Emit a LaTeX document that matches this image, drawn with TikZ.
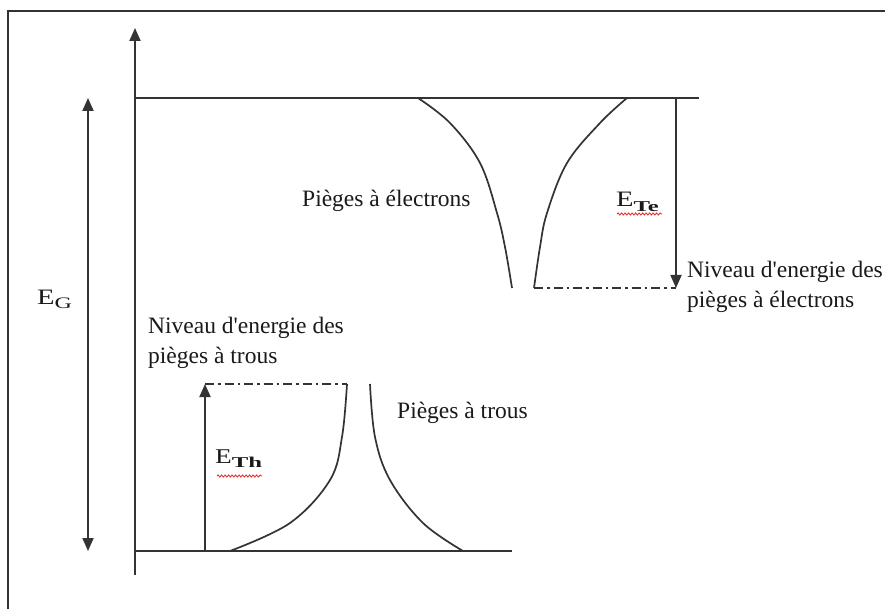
\documentclass[tikz,border=0pt]{standalone}
\usepackage{fontspec}
\setmainfont{Liberation Serif}
\usepackage{graphicx}
\usetikzlibrary{arrows.meta,decorations.pathmorphing}
\definecolor{linegray}{HTML}{333333}
\definecolor{textblack}{HTML}{1A1A1A}
\definecolor{wavyred}{HTML}{E03030}
\begin{document}
\begin{tikzpicture}[x=1pt,y=-1pt,
  band/.style={draw=linegray, line width=2.3pt},
  curve/.style={draw=linegray, line width=1.7pt},
  arr/.style={draw=linegray, line width=1.8pt, -{Triangle[length=13pt,width=11pt]}},
  darr/.style={draw=linegray, line width=1.8pt, {Triangle[length=13pt,width=11pt]}-{Triangle[length=13pt,width=11pt]}},
  level/.style={draw=linegray, line width=1.6pt, dash pattern=on 9pt off 4pt on 2.5pt off 4pt},
  lbl/.style={anchor=base west, inner sep=0pt, text=textblack, font=\fontsize{23.5}{30}\selectfont},
  sym/.style={anchor=base west, inner sep=0pt, text=textblack},
  wavy/.style={draw=wavyred, line width=0.9pt, decorate, decoration={snake, amplitude=1pt, segment length=3.5pt}}
]
\useasboundingbox (0,0) rectangle (885,609);
\fill[white] (0,0) rectangle (885,609);
\begin{scope}
\clip (0,0) rectangle (885,609);
\draw[draw=linegray, line width=1.6pt] (8,615) -- (8,11) -- (890,11);
\end{scope}

% coordinates
\coordinate (axB) at (135,575);
\coordinate (axT) at (135,28);
\coordinate (cbL) at (135,98);
\coordinate (cbR) at (699,98);
\coordinate (vbL) at (135,551);
\coordinate (vbR) at (512,551);
\coordinate (egT) at (88,98);
\coordinate (egB) at (88,551);
\coordinate (etL) at (512,288);
\coordinate (etR) at (534,288);
\coordinate (teB) at (676,288);
\coordinate (teT) at (676,98);
\coordinate (htL) at (347,384);
\coordinate (htR) at (370,384);
\coordinate (thB) at (205,551);
\coordinate (thT) at (205,384);

% axis and bands
\draw[arr] (axB) -- (axT);
\draw[band] (cbL) -- (cbR);
\draw[band] (vbL) -- (vbR);
\draw[darr] (egB) -- (egT);

% electron traps
\draw[curve] plot[smooth, tension=0.6] coordinates {(418,98) (450,123) (480,163) (497,213) (505,247) (etL)};
\draw[curve] plot[smooth, tension=0.6] coordinates {(627,98) (600,123) (567,163) (547,213) (540,247) (etR)};
\draw[level] (etR) -- (teB);
\draw[arr] (teT) -- (teB);

% hole traps
\draw[curve] plot[smooth, tension=0.6] coordinates {(230,551) (290,523) (330,480) (342,437) (htL)};
\draw[curve] plot[smooth, tension=0.6] coordinates {(htR) (375,437) (390,480) (423,523) (463,551)};
\draw[level] (thT) -- (htL);
\draw[arr] (thB) -- (thT);

% labels
\node[sym] (eg) at (37,305) {\scalebox{1.3}[1]{\fontsize{22}{22}\selectfont E}\raisebox{-4pt}{\scalebox{1.5}[1]{\fontsize{16}{16}\selectfont G}}};
\node[sym] (ete) at (616,207) {\scalebox{1.3}[1]{\fontsize{22}{22}\selectfont E}\raisebox{-5pt}{\scalebox{1.65}[1]{\fontsize{15}{15}\selectfont\bfseries Te}}};
\node[sym] (eth) at (215,463) {\scalebox{1.3}[1]{\fontsize{21}{21}\selectfont E}\raisebox{-4pt}{\scalebox{1.65}[1]{\fontsize{15}{15}\selectfont\bfseries Th}}};
\draw[wavy] (617,214) -- (662,214);
\draw[wavy] (217,476) -- (262,476);

\node[lbl] (pe) at (302,207) {Pièges à électrons};
\node[lbl] (pt) at (397,418) {Pièges à trous};
\node[lbl] (ne1) at (687,278) {Niveau d\textquotesingle energie des};
\node[lbl] (ne2) at (687,308) {pièges à électrons};
\node[lbl] (nh1) at (148,333) {Niveau d\textquotesingle energie des};
\node[lbl] (nh2) at (148,363) {pièges à trous};
\end{tikzpicture}
\end{document}
